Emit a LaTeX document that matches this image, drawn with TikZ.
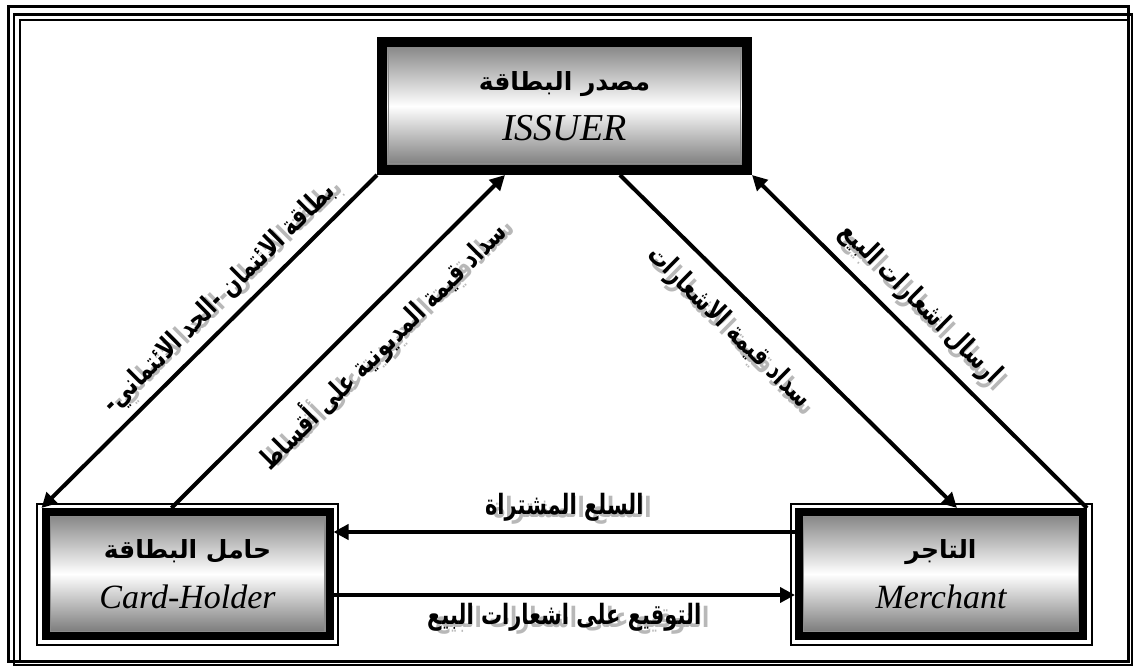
\documentclass[tikz,border=0pt]{standalone}
\usepackage{fontspec}
\setmainfont{Liberation Serif}
\newfontfamily\arabicfont[Script=Arabic]{DejaVu Sans}
\newfontfamily\arlabelfont[Script=Arabic, FakeStretch=0.75]{DejaVu Sans}
\TeXXeTstate=1
\usetikzlibrary{positioning, arrows.meta, calc}

% Arabic text, plain and with a grey shadow
\newcommand{\artext}[1]{{\arabicfont\bfseries\beginR #1\endR}}
\newcommand{\shadowar}[1]{{\arlabelfont\bfseries\rlap{\kern4pt\raisebox{-1.5pt}{\color{black!28}\beginR #1\endR}}\beginR #1\endR}}
\newcommand{\latintext}[2][17]{{\fontsize{#1}{25}\selectfont\itshape #2}}

\tikzset{
  party/.style={draw, align=center, inner sep=0pt,
    font=\fontsize{12.5}{25}\selectfont,
    top color=black!50, bottom color=black!55, middle color=white},
  issuerbox/.style={party, line width=5pt, minimum width=182.5pt, minimum height=64pt,
    path picture={\draw[black!45, line width=0.6pt]
      ([shift={(3.3pt,-3.3pt)}]path picture bounding box.north west) rectangle
      ([shift={(-3.3pt,3.3pt)}]path picture bounding box.south east);}},
  sidebox/.style={party, line width=4pt, minimum width=142pt, minimum height=62pt,
    preaction={draw=black, line width=9.5pt},
    preaction={draw=white, line width=7.5pt},
    path picture={\draw[black!45, line width=0.6pt]
      ([shift={(2.3pt,-2.3pt)}]path picture bounding box.north west) rectangle
      ([shift={(-2.3pt,2.3pt)}]path picture bounding box.south east);}},
  flow/.style={line width=2pt, -{Triangle[length=7.5pt, width=7.5pt]}},
  lbl/.style={inner sep=0pt, font=\fontsize{14}{16}\selectfont},
}

\begin{document}
\begin{tikzpicture}[x=0.5pt, y=-0.5pt]
\useasboundingbox (0,0) rectangle (1135,669);

% page frame
\draw[line width=1.5pt] (8.7,6.7) rectangle (1128,661);
\draw[line width=1.2pt] (14,14.3) rectangle (1132,665);
\draw[line width=1pt] (19.5,19.5) rectangle (1128,661);

% parties
\node[issuerbox] (issuer) at (564.5,106) {\artext{مصدر البطاقة}\\\latintext[19]{ISSUER}};
\node[sidebox] (holder) at (187.5,574) {\artext{حامل البطاقة}\\\latintext{Card-Holder}};
\node[sidebox] (merchant) at (941,574) {\artext{التاجر}\\\latintext{Merchant}};

% flows between the parties
\draw[flow] (issuer.south west) -- node[lbl, sloped, pos=0.42, above=2pt] {\shadowar{بطاقة الائتمان -الحد الائتماني-}} (holder.north west);
\draw[flow] ([xshift=-8pt]holder.north) -- node[lbl, sloped, pos=0.56, below=7pt] {\shadowar{سداد قيمة المديونية على أقساط}} ([xshift=-29.75pt]issuer.south);
\draw[flow] ([xshift=27.7pt]issuer.south) -- node[lbl, sloped, pos=0.39, below=8pt] {\shadowar{سداد قيمة الاشعارات}} ([xshift=8pt]merchant.north);
\draw[flow] (merchant.north east) -- node[lbl, sloped, pos=0.555, above=4pt] {\shadowar{ارسال اشعارات البيع}} (issuer.south east);
\draw[flow] ([yshift=21pt]merchant.west) -- node[lbl, above=3pt] {\shadowar{السلع المشتراة}} ([yshift=21pt]holder.east);
\draw[flow] ([yshift=-10.5pt]holder.east) -- node[lbl, below=3pt] {\shadowar{التوقيع على اشعارات البيع}} ([yshift=-10.5pt]merchant.west);

\end{tikzpicture}
\end{document}
